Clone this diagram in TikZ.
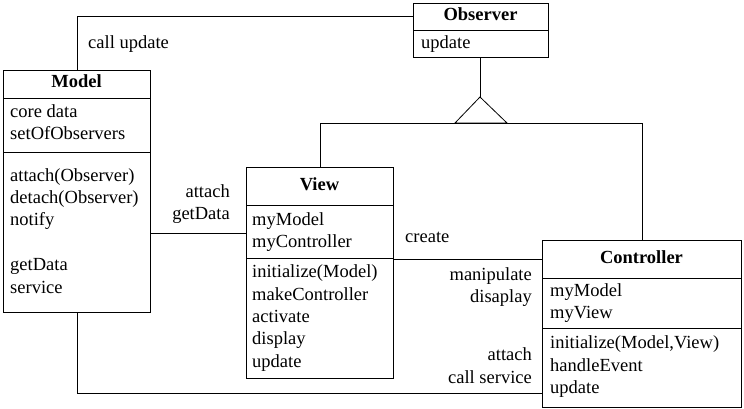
\documentclass[tikz,border=0pt]{standalone}
\usepackage{fontspec}
\setmainfont{Liberation Serif}
\begin{document}
\begin{tikzpicture}[x=1pt,y=-1pt,
  box/.style={draw,line width=0.8pt,anchor=north west,inner sep=0pt,minimum width=#1},
  ln/.style={line width=0.8pt},
  txt/.style={anchor=mid west,inner sep=0pt,yshift=-3.5pt,font=\fontsize{18.5}{22}\selectfont},
  rtxt/.style={anchor=mid east,inner sep=0pt,yshift=-3.5pt,font=\fontsize{18.5}{22}\selectfont},
  ttl/.style={anchor=mid,inner sep=0pt,yshift=-2.5pt,font=\fontsize{18.5}{22}\selectfont\bfseries}]
\useasboundingbox (0,0) rectangle (744,409);
% Boxes
\node[box=135pt,minimum height=54pt] (obs) at (413,3) {};
\node[box=147pt,minimum height=242pt] (model) at (3,70) {};
\node[box=147pt,minimum height=211pt] (view) at (246,167) {};
\node[box=199pt,minimum height=167pt] (ctrl) at (542,240) {};
% separators
\draw[ln] (413,30) -- (548,30);
\draw[ln] (3,98) -- (150,98);
\draw[ln] (3,152) -- (150,152);
\draw[ln] (246,205) -- (393,205);
\draw[ln] (246,258) -- (393,258);
\draw[ln] (542,278) -- (741,278);
\draw[ln] (542,328) -- (741,328);
% Observer text
\node[ttl] (obsT) at (480.5,16) {Observer};
\node[txt] at (421,43) {update};
% Model text
\node[ttl] (modelT) at (76.5,83) {Model};
\node[txt] at (10,112) {core data};
\node[txt] at (10,134) {setOfObservers};
\node[txt] at (10,176) {attach(Observer)};
\node[txt] at (10,198) {detach(Observer)};
\node[txt] at (10,220) {notify};
\node[txt] at (10,265) {getData};
\node[txt] at (10,288) {service};
% View text
\node[ttl] (viewT) at (319.5,186) {View};
\node[txt] at (252,220) {myModel};
\node[txt] at (252,242) {myController};
\node[txt] at (252,272) {initialize(Model)};
\node[txt] at (252,295) {makeController};
\node[txt] at (252,317) {activate};
\node[txt] at (252,339) {display};
\node[txt] at (252,362) {update};
% Controller text
\node[ttl] (ctrlT) at (641.5,259) {Controller};
\node[txt] at (550,291) {myModel};
\node[txt] at (550,313) {myView};
\node[txt] at (550,343) {initialize(Model,View)};
\node[txt] at (550,366) {handleEvent};
\node[txt] at (550,388) {update};
% connectors
\coordinate (m1) at (77,16);
\coordinate (m2) at (77,393);
\draw[ln] (model.north -| m1) -- (m1) -- (obs.west |- m1);
\draw[ln] (model.south -| m2) -- (m2) -- (ctrl.west |- m2);
\coordinate (a1) at (0,233);
\draw[ln] (model.east |- a1) -- (view.west |- a1);
\coordinate (a2) at (0,259);
\draw[ln] (view.east |- a2) -- (ctrl.west |- a2);
% generalization
\coordinate (apex) at (480,97);
\coordinate (bl) at (455,123);
\coordinate (br) at (507,123);
\coordinate (hl) at (320,123);
\coordinate (hr) at (642,123);
\draw[ln] (obs.south -| apex) -- (apex);
\draw[ln] (apex) -- (bl) -- (br) -- cycle;
\draw[ln] (view.north -| hl) -- (hl) -- (hr) -- (ctrl.north -| hr);
% labels
\node[txt] at (88,43) {call update};
\node[rtxt] at (230,192) {attach};
\node[rtxt] at (230,214) {getData};
\node[txt] at (405,237) {create};
\node[rtxt] at (532,275) {manipulate};
\node[rtxt] at (532,297) {disaplay};
\node[rtxt] at (532,355) {attach};
\node[rtxt] at (532,378) {call service};
\end{tikzpicture}
\end{document}
